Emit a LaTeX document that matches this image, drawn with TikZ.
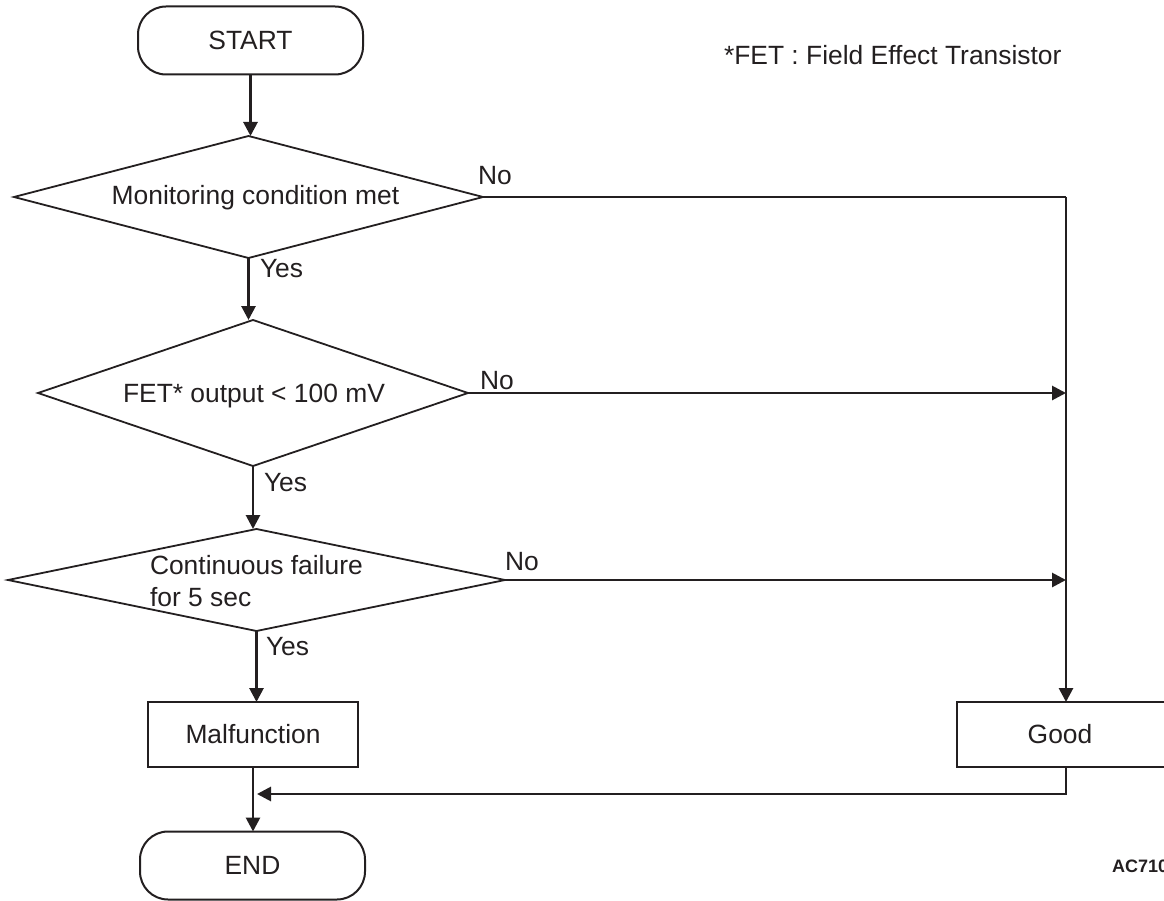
\documentclass[tikz,border=0pt]{standalone}
\usepackage{fontspec}
\setmainfont{Liberation Sans}
\usetikzlibrary{shapes.geometric,arrows.meta}
\definecolor{ink}{RGB}{35,31,32}
\begin{document}
\begin{tikzpicture}[x=1pt,y=-1pt,
  every node/.style={inner sep=0pt, outer sep=0pt, text=ink,
    font=\fontsize{26.4}{32}\selectfont},
  term/.style={draw=ink, line width=2pt, rounded corners=28pt,
    minimum width=225pt, minimum height=68pt},
  procbox/.style={draw=ink, line width=2pt, minimum height=65pt},
  decision/.style={draw=ink, line width=1.8pt, shape=diamond},
  caption/.style={anchor=base west},
  flow/.style={draw=ink, line width=2.8pt, -{Triangle[length=14pt,width=14pt]}},
  link/.style={draw=ink, line width=2.8pt},
]
\useasboundingbox (0,0) rectangle (1164,901);

% terminators
\node[term] (start) at (250.5,40.5) {START};
\node[term] (end)   at (252.5,865.5) {END};

% decisions
\node[decision, minimum width=469pt, minimum height=122pt] (d1) at (248.5,197) {};
\node[decision, minimum width=430pt, minimum height=146pt] (d2) at (253,393) {};
\node[decision, minimum width=497pt, minimum height=102pt] (d3) at (256.5,580) {};

\node[anchor=base] (t1) at (255.5,205) {Monitoring condition met};
\node[anchor=base] (t2) at (254,402) {FET* output < 100 mV};
\node[caption] (t3a) at (150,574) {Continuous failure};
\node[caption] (t3b) at (150,606) {for 5 sec};

% process boxes
\node[procbox, minimum width=210.5pt] (malf) at (253,734.5) {Malfunction};
\node[procbox, minimum width=211pt] (good) at (1062.5,734.5) {\hspace*{-5pt}Good};

% branch labels
\node[caption] (no1)  at (478,185) {No};
\node[caption] (no2)  at (480,389) {No};
\node[caption] (no3)  at (505,570) {No};
\node[caption] (yes1) at (260,277) {Yes};
\node[caption] (yes2) at (264,491) {Yes};
\node[caption] (yes3) at (266,655) {Yes};

% notes
\node[caption] (note) at (724,65) {*FET : Field Effect Transistor};
\node[caption, font=\fontsize{18}{20}\selectfont\bfseries] (code) at (1112,872) {AC710};

% right-hand collector
\coordinate (rtop) at (1066,197);
\coordinate (join) at (257,794);

% main flow
\draw[flow] (start.south) -- (start.south |- d1.north);
\draw[flow] (d1.south) -- (d1.south |- d2.north);
\draw[flow] (d2.south) -- (d2.south |- d3.north);
\draw[flow] (d3.south) -- (d3.south |- malf.north);
\draw[flow] (malf.south) -- (malf.south |- end.north);

% "No" branches
\draw[link] (d1.east) -- (rtop);
\draw[flow] (rtop) -- (rtop |- good.north);
\draw[flow] (d2.east) -- (d2.east -| rtop);
\draw[flow] (d3.east) -- (d3.east -| rtop);

% return path from Good
\draw[flow] (good.south -| rtop) -- (rtop |- join) -- (join);
\end{tikzpicture}
\end{document}
